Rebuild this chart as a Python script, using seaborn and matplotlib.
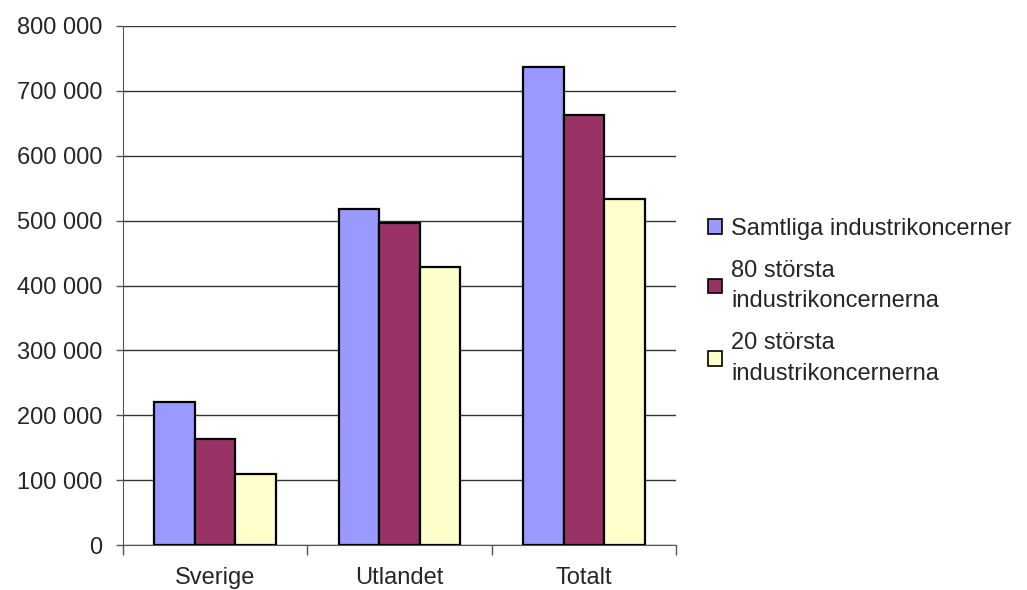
import pandas as pd
import matplotlib.pyplot as plt
import matplotlib.ticker as mticker
import seaborn as sns

categories = ['Sverige', 'Utlandet', 'Totalt']
series = ['Samtliga industrikoncerner', '80 största\nindustrikoncernerna', '20 största\nindustrikoncernerna']
samtliga = [220000, 518000, 737000]
storsta80 = [164000, 497000, 663000]
storsta20 = [109000, 429000, 534000]
colors = ['#9999FF', '#993366', '#FFFFCC']

df = pd.DataFrame({
    'kategori': categories * 3,
    'serie': [series[0]] * 3 + [series[1]] * 3 + [series[2]] * 3,
    'varde': samtliga + storsta80 + storsta20,
})

sns.set_style('white')
plt.rcParams['font.family'] = ['Liberation Sans', 'DejaVu Sans']
fs = 17

fig = plt.figure(figsize=(10.27, 5.9), dpi=100)
ax = fig.add_axes([123 / 1027, 1 - 545 / 590, (676 - 123) / 1027, (545 - 26) / 590])

sns.barplot(data=df, x='kategori', y='varde', hue='serie', palette=colors, saturation=1,
            width=0.66, edgecolor='black', linewidth=1.6, ax=ax, zorder=3)

ax.set_ylim(0, 800000)
ax.set_xlim(-0.5, 2.5)
ax.yaxis.set_major_locator(mticker.MultipleLocator(100000))
ax.yaxis.set_major_formatter(mticker.FuncFormatter(lambda v, p: f'{int(v):,}'.replace(',', ' ')))
ax.grid(axis='y', color='#333333', linewidth=1, zorder=0)
ax.set_axisbelow(True)

ax.set_xticks([-0.5, 0.5, 1.5, 2.5], minor=False)
ax.set_xticklabels([])
ax.set_xticks([0, 1, 2], minor=True)
ax.set_xticklabels(categories, minor=True)
ax.tick_params(axis='x', which='major', direction='out', length=7, color='#555555', width=1, bottom=True)
ax.tick_params(axis='x', which='minor', length=0, pad=16, labelsize=fs)
ax.tick_params(axis='y', direction='out', length=5, color='#555555', width=1, left=True, labelsize=fs, pad=10)

for s in ['top', 'right']:
    ax.spines[s].set_visible(False)
ax.spines['left'].set_color('#555555')
ax.spines['bottom'].set_color('#555555')
ax.set_xlabel('')
ax.set_ylabel('')

handles, labels = ax.get_legend_handles_labels()
for h in handles:
    h.set_linewidth(1.2)
leg = ax.legend(handles, labels, loc='center left', bbox_to_anchor=(1.04, 0.47), frameon=False,
                fontsize=fs, handlelength=0.6, handleheight=0.6, handletextpad=0.4,
                labelspacing=0.85, borderaxespad=0)
for t in leg.get_texts():
    t.set_linespacing(1.5)

fig.savefig('out.png', dpi=100)
